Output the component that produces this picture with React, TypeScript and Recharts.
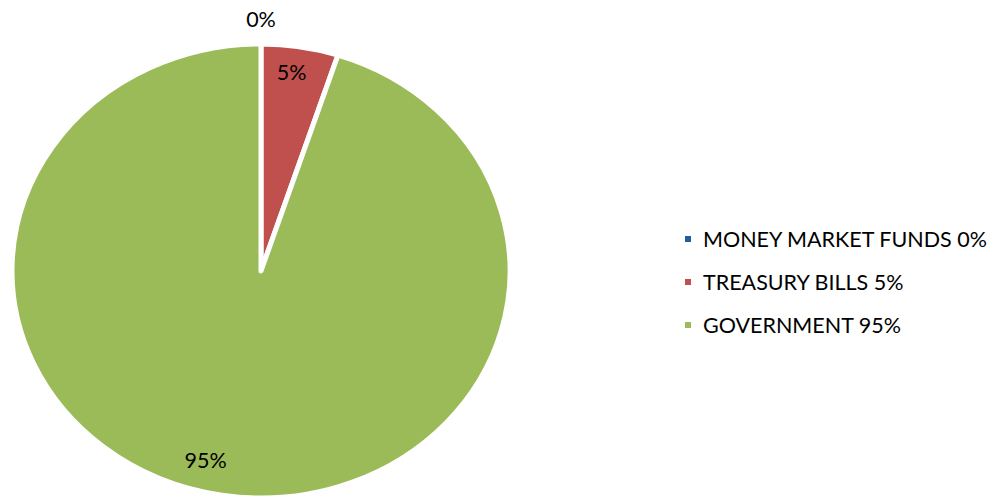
import React from 'react';
import { PieChart, Pie, Cell, Legend } from 'recharts';

const categories = ['MONEY MARKET FUNDS', 'TREASURY BILLS', 'GOVERNMENT'];
const values = [0, 5, 95];
const colors = ['#1F5FA0', '#C0504D', '#9BBB59'];

const data = categories.map((name, i) => ({ name, value: values[i] }));

const CX = 261;
const CY = 271;
const RY = 227;
const RX_RATIO = 249 / 227;
const FONT = 'Lato, "Open Sans", sans-serif';
const RAD = Math.PI / 180;

const pt = (cx: number, cy: number, rx: number, ry: number, angle: number) => ({
  x: cx + rx * Math.cos(-angle * RAD),
  y: cy + ry * Math.sin(-angle * RAD),
});

const EllipseSector = (props: any) => {
  const { cx, cy, outerRadius, startAngle, endAngle, fill } = props;
  const ry = outerRadius;
  const rx = outerRadius * RX_RATIO;
  const s = pt(cx, cy, rx, ry, startAngle);
  const e = pt(cx, cy, rx, ry, endAngle);
  const large = Math.abs(startAngle - endAngle) > 180 ? 1 : 0;
  const d = `M${cx},${cy} L${s.x},${s.y} A${rx},${ry} 0 ${large} 1 ${e.x},${e.y} Z`;
  return (
    <path
      d={d}
      fill={fill}
      stroke="#ffffff"
      strokeWidth={5}
      strokeLinejoin="round"
    />
  );
};

const labelFactor = [1.11, 0.885, 0.86];
const labelAngleShift = [0, 1, -6];

const renderLabel = (props: any) => {
  const { cx, cy, outerRadius, midAngle, index, value } = props;
  const f = labelFactor[index];
  const p = pt(cx, cy, outerRadius * RX_RATIO * f, outerRadius * f, midAngle + labelAngleShift[index]);
  return (
    <text
      x={p.x}
      y={p.y}
      textAnchor="middle"
      dominantBaseline="central"
      fill="#000000"
      fontFamily={FONT}
      fontSize={21.5}
    >
      {`${value}%`}
    </text>
  );
};

const renderLegend = (props: any) => {
  const { payload } = props;
  return (
    <div style={{ fontFamily: FONT, fontSize: 21.5, color: '#000' }}>
      {payload.map((entry: any, i: number) => (
        <div
          key={i}
          style={{ display: 'flex', alignItems: 'center', height: 43 }}
        >
          <span
            style={{
              display: 'inline-block',
              width: 6,
              height: 6,
              background: colors[i],
              marginRight: 12,
            }}
          />
          <span>{`${categories[i]} ${values[i]}%`}</span>
        </div>
      ))}
    </div>
  );
};

export default function App() {
  return (
    <div style={{ position: 'absolute', left: 0, top: 0, width: 992, height: 497, background: '#fff', overflow: 'hidden' }}>
      <PieChart width={992} height={497} margin={{ top: 0, right: 0, bottom: 0, left: 0 }}>
        <Pie
          data={data}
          dataKey="value"
          nameKey="name"
          cx={CX}
          cy={CY}
          outerRadius={RY}
          startAngle={90}
          endAngle={-270}
          shape={EllipseSector}
          label={renderLabel}
          labelLine={false}
          isAnimationActive={false}
          stroke="#ffffff"
        >
          {data.map((_, i) => (
            <Cell key={i} fill={colors[i]} />
          ))}
        </Pie>
        <Legend
          layout="vertical"
          content={renderLegend}
          wrapperStyle={{ left: 685, top: 217, width: 307 }}
        />
      </PieChart>
    </div>
  );
}
